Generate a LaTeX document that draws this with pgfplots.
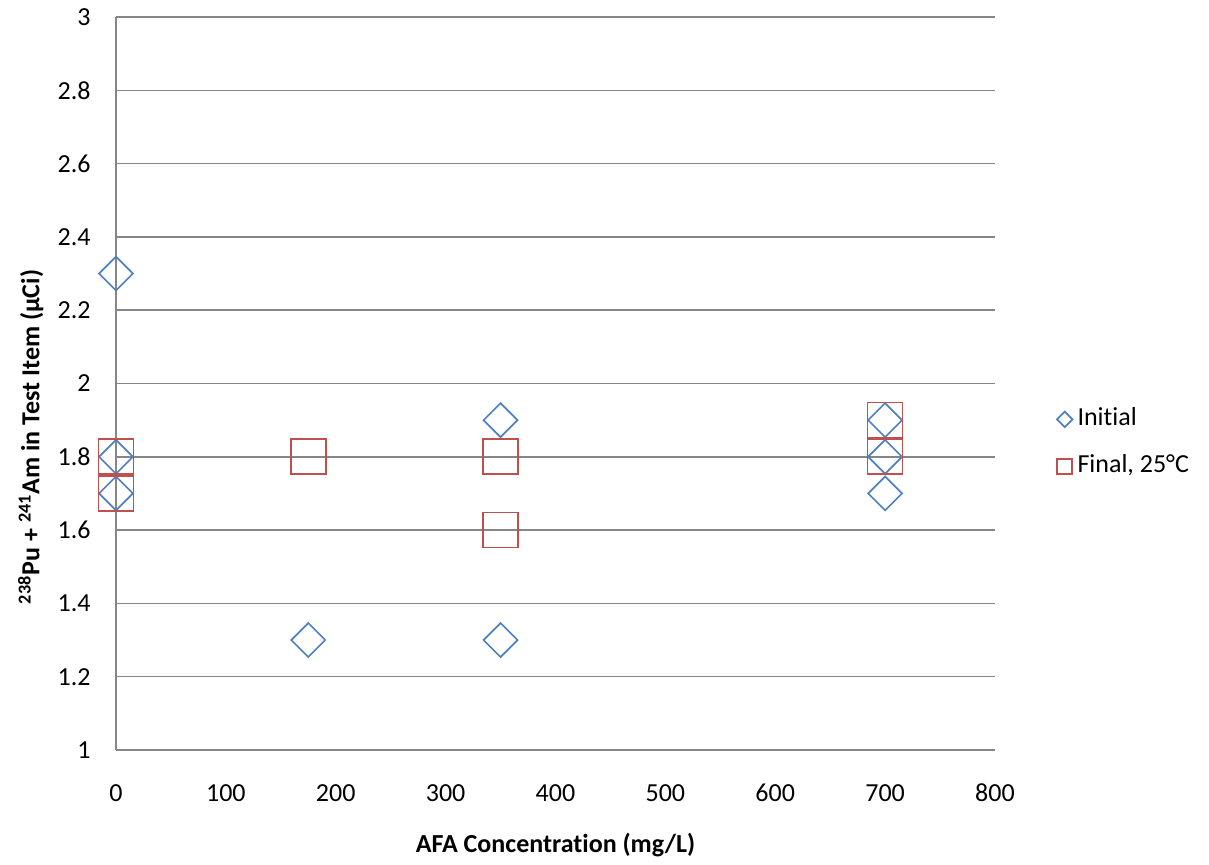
\documentclass[border=0pt]{standalone}
\usepackage{pgfplots}
\pgfplotsset{compat=1.18}
\usepackage{fontspec}
\setmainfont{Carlito}[Ligatures={NoCommon}]

\definecolor{initblue}{RGB}{79,129,189}
\definecolor{finalred}{RGB}{192,80,77}
\definecolor{gridgray}{RGB}{134,134,134}

\begin{document}
\begin{tikzpicture}
\path[use as bounding box] (-58pt,-57.5pt) rectangle (546.5pt,375pt);
\begin{axis}[
  at={(0,0)}, anchor=south west,
  width=439.5pt, height=366.5pt, scale only axis,
  xmin=0, xmax=800, ymin=1, ymax=3,
  xtick={0,100,200,300,400,500,600,700,800},
  ytick={1,1.2,1.4,1.6,1.8,2,2.2,2.4,2.6,2.8,3},
  axis lines*=left,
  axis line style={draw=gridgray, line width=0.75pt},
  ymajorgrids,
  grid style={draw=gridgray, line width=0.75pt},
  major tick length=0pt,
  font=\fontsize{13pt}{15pt}\selectfont,
  /pgf/number format/assume math mode=true,
  xticklabel style={anchor=center, inner sep=0pt, yshift=-21.5pt},
  yticklabel style={anchor=east, inner sep=0pt, xshift=-12.5pt},
  xlabel={\bfseries AFA Concentration (mg/L)},
  ylabel={\bfseries \textsuperscript{238}Pu + \textsuperscript{241}Am in Test Item (µCi)},
  xlabel style={at={(axis description cs:0.5,-0.1296)}, anchor=center, inner sep=0pt},
  ylabel style={at={(axis description cs:-0.097,0.427)}, anchor=center, inner sep=0pt},
  legend style={draw=none, fill=none, inner sep=0pt, outer sep=0pt,
    at={(axis description cs:1.0705,0.419)}, anchor=west,
    row sep=12pt, column sep=0pt,
    nodes={inner sep=0pt, text height=9pt, text depth=2.5pt, anchor=west}},
  legend cell align=left,
  legend image code/.code={\draw[#1] plot coordinates {(0pt,0pt)};},
]
\addplot[only marks, mark=square, mark size=6pt, mark options={rotate=45, draw=initblue, line width=0.85pt, fill=none},
  legend image post style={mark size=2.75pt, xshift=4pt}]
  coordinates {
  (0,2.3) (0,1.8) (0,1.7)
  (175,1.3)
  (350,1.9) (350,1.3)
  (700,1.9) (700,1.8) (700,1.7)
};
\addlegendentry{\hspace{2.5pt}Initial}
\addplot[only marks, mark=square, mark size=8.75pt, mark options={draw=finalred, line width=0.85pt, fill=none},
  legend image post style={mark size=3.8pt, xshift=4pt}]
  coordinates {
  (0,1.8) (0,1.7)
  (175,1.8)
  (350,1.8) (350,1.6)
  (700,1.9) (700,1.8)
};
\addlegendentry{\hspace{2.5pt}Final, 25°C}
\end{axis}
\end{tikzpicture}
\end{document}
